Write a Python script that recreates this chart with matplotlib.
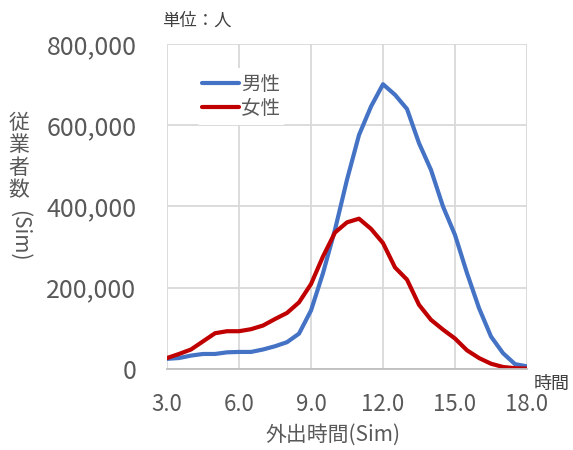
import numpy as np
import matplotlib
matplotlib.use('Agg')
import matplotlib.pyplot as plt
from matplotlib.ticker import FuncFormatter

plt.rcParams['font.family'] = ['Noto Sans CJK JP', 'DejaVu Sans']

# outing time (hours) and number of workers by sex
hours = [3.0, 3.5, 4.0, 4.5, 5.0, 5.5, 6.0, 6.5, 7.0, 7.5, 8.0, 8.5, 9.0, 9.5,
         10.0, 10.5, 11.0, 11.5, 12.0, 12.5, 13.0, 13.5, 14.0, 14.5, 15.0,
         15.5, 16.0, 16.5, 17.0, 17.5, 18.0]
male = [25000, 27000, 33000, 37000, 37000, 41000, 42000, 42000, 48000, 56000,
        66000, 87000, 144000, 236000, 343000, 466000, 576000, 646000, 701000,
        675000, 640000, 556000, 490000, 400000, 330000, 236000, 150000, 80000,
        39000, 12000, 6500]
female = [27000, 37000, 48000, 68000, 88000, 93000, 93000, 98000, 107000,
          123000, 138000, 164000, 209000, 277000, 336000, 361000, 370000,
          345000, 310000, 250000, 220000, 158000, 121000, 97000, 75000, 46000,
          27000, 13000, 5000, 2000, 1000]

x_ticks = [3.0, 6.0, 9.0, 12.0, 15.0, 18.0]
y_ticks = [0, 200000, 400000, 600000, 800000]

W, H = 573, 450
fig = plt.figure(figsize=(W / 100, H / 100), dpi=100)
ax = fig.add_axes([167 / W, (H - 369) / H, 360 / W, 325 / H])

ax.plot(hours, male, color='#4472C4', lw=3, label='男性', solid_capstyle='round')
ax.plot(hours, female, color='#C00000', lw=3, label='女性', solid_capstyle='round')

ax.set_xlim(3, 18)
ax.set_ylim(0, 800000)
ax.set_xticks(x_ticks)
ax.set_yticks(y_ticks)
ax.xaxis.set_major_formatter(FuncFormatter(lambda v, p: f'{v:.1f}'))
ax.yaxis.set_major_formatter(FuncFormatter(lambda v, p: f'{int(v):,}'))
ax.tick_params(axis='x', length=0, labelsize=16, colors='#595959', pad=17)
ax.tick_params(axis='y', length=0, labelsize=18, colors='#595959', pad=22)
ax.grid(color='#D9D9D9', lw=1.3)
ax.set_axisbelow(True)
for s in ['top', 'right', 'left']:
    ax.spines[s].set_visible(False)
ax.spines['bottom'].set_color('#BFBFBF')
ax.spines['bottom'].set_linewidth(1.3)

leg = ax.legend(loc='upper left', bbox_to_anchor=(0.055, 0.955), fontsize=14,
                frameon=True, handlelength=1.9, handletextpad=0.1,
                labelspacing=0.15, borderpad=0.3, labelcolor='#595959')
leg.get_frame().set_facecolor('white')
leg.get_frame().set_edgecolor('none')
leg.get_frame().set_alpha(1)

# annotations outside the axes
fig.text(162 / W, 1 - 21 / H, '単位：人', fontsize=12.5, color='#404040',
         ha='left', va='center')
fig.text(552 / W, 1 - 384 / H, '時間', fontsize=13, color='#404040',
         ha='center', va='center')
fig.text(333 / W, 1 - 435 / H, '外出時間(Sim)', fontsize=15, color='#595959',
         ha='center', va='center')

# vertical y-axis title: stacked characters, then rotated "(Sim)"
for i, ch in enumerate('従業者数'):
    fig.text(19 / W, 1 - (123 + i * 22.5) / H, ch, fontsize=15,
             color='#595959', ha='center', va='center')
fig.text(19 / W, 1 - 236 / H, '(Sim)', fontsize=15, color='#595959',
         ha='center', va='center', rotation=-90)

fig.savefig('out.png', dpi=100)
